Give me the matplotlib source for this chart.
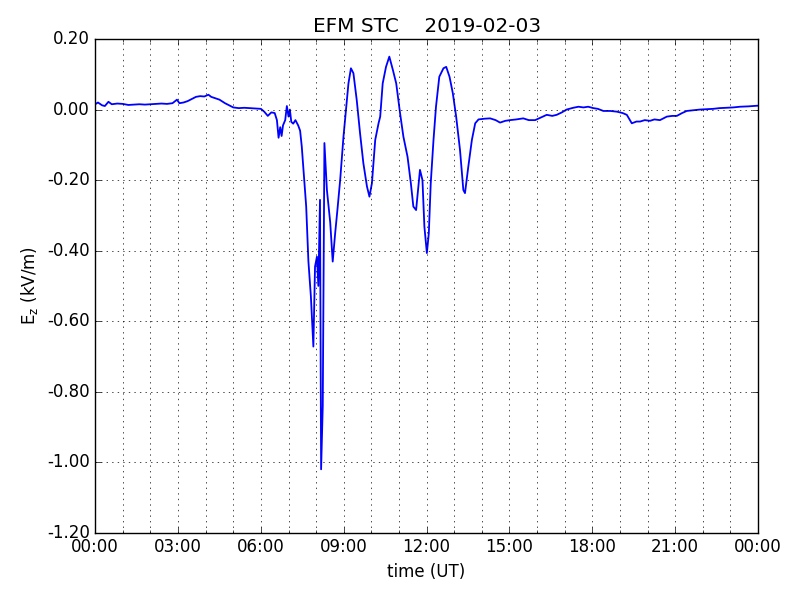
import matplotlib
matplotlib.use('Agg')
import matplotlib.pyplot as plt
import matplotlib.dates as mdates
from matplotlib.ticker import FormatStrFormatter
import pandas as pd

day = '2019-02-03'

# hours after midnight (UT) and Ez in kV/m
hours = [0.00, 0.10, 0.25, 0.35, 0.48, 0.60, 0.80, 1.00, 1.20, 1.40, 1.60, 1.80,
         2.00, 2.20, 2.40, 2.60, 2.80, 2.96, 3.05, 3.20, 3.35, 3.50, 3.65, 3.80,
         3.95, 4.10, 4.20, 4.35, 4.50, 4.70, 4.85, 5.00, 5.20, 5.40, 5.60, 5.80,
         6.00, 6.12, 6.25, 6.38, 6.50, 6.58, 6.64, 6.70, 6.75, 6.80, 6.88, 6.94,
         7.00, 7.05, 7.10, 7.17, 7.25, 7.35, 7.42, 7.48, 7.57, 7.64, 7.72, 7.81,
         7.90, 7.96, 8.03, 8.08, 8.14, 8.18, 8.24, 8.30, 8.39, 8.51, 8.60, 8.69,
         8.77, 8.87, 8.99, 9.09, 9.17, 9.26, 9.35, 9.47, 9.59, 9.71, 9.84, 9.93,
         10.02, 10.14, 10.26, 10.32, 10.41, 10.53, 10.65, 10.78, 10.90, 11.04, 11.16, 11.31,
         11.43, 11.52, 11.62, 11.70, 11.76, 11.85, 11.92, 12.01, 12.08, 12.15, 12.25, 12.34,
         12.46, 12.61, 12.71, 12.83, 12.95, 13.07, 13.21, 13.33, 13.39, 13.51, 13.64, 13.76,
         13.88, 14.10, 14.30, 14.50, 14.66, 14.85, 15.02, 15.25, 15.50, 15.70, 15.93, 16.15,
         16.35, 16.55, 16.71, 16.90, 17.07, 17.31, 17.50, 17.68, 17.85, 18.04, 18.20, 18.40,
         18.65, 18.89, 19.10, 19.25, 19.43, 19.60, 19.73, 19.90, 20.09, 20.25, 20.45, 20.70,
         20.90, 21.06, 21.25, 21.42, 21.65, 21.90, 22.15, 22.38, 22.60, 22.87, 23.10, 23.35,
         23.65, 24.00]
ez = [0.015, 0.020, 0.012, 0.010, 0.022, 0.015, 0.017, 0.016, 0.013, 0.014, 0.015, 0.014,
      0.015, 0.016, 0.017, 0.016, 0.018, 0.028, 0.018, 0.020, 0.024, 0.030, 0.036, 0.038,
      0.037, 0.042, 0.036, 0.032, 0.028, 0.018, 0.012, 0.006, 0.004, 0.005, 0.004, 0.003,
      0.002, -0.006, -0.018, -0.008, -0.010, -0.030, -0.080, -0.050, -0.075, -0.045, -0.030, 0.010,
      -0.020, 0.000, -0.035, -0.040, -0.030, -0.045, -0.060, -0.105, -0.200, -0.275, -0.430, -0.530,
      -0.672, -0.445, -0.417, -0.500, -0.256, -1.020, -0.840, -0.095, -0.228, -0.320, -0.431, -0.350,
      -0.285, -0.200, -0.077, 0.008, 0.074, 0.117, 0.103, 0.027, -0.067, -0.152, -0.218, -0.247,
      -0.209, -0.086, -0.039, -0.020, 0.074, 0.121, 0.150, 0.112, 0.074, -0.011, -0.077, -0.134,
      -0.209, -0.275, -0.285, -0.218, -0.171, -0.200, -0.332, -0.407, -0.351, -0.209, -0.086, 0.008,
      0.093, 0.117, 0.121, 0.093, 0.046, -0.020, -0.115, -0.228, -0.237, -0.162, -0.086, -0.039,
      -0.028, -0.026, -0.025, -0.030, -0.037, -0.032, -0.030, -0.028, -0.025, -0.030, -0.030, -0.022,
      -0.015, -0.018, -0.015, -0.008, 0.000, 0.005, 0.008, 0.006, 0.008, 0.004, 0.002, -0.004,
      -0.004, -0.006, -0.010, -0.015, -0.039, -0.034, -0.034, -0.030, -0.032, -0.028, -0.030, -0.020,
      -0.018, -0.018, -0.010, -0.004, -0.002, 0.000, 0.001, 0.002, 0.004, 0.005, 0.006, 0.008,
      0.009, 0.011]

y_ticks = [-1.2, -1.0, -0.8, -0.6, -0.4, -0.2, 0.0, 0.2]

if __name__ == '__main__':
    plt.style.use('classic')
    plt.rcParams['mathtext.default'] = 'regular'

    t0 = pd.Timestamp(day)
    times = [t0 + pd.Timedelta(hours=h) for h in hours]

    fig = plt.figure(figsize=(8, 6), dpi=100)
    ax = fig.add_subplot(111)
    fig.subplots_adjust(left=0.119, right=0.9475, top=0.935, bottom=0.112)

    ax.plot(times, ez, color='b', linewidth=1.3)

    ax.set_xlim(t0, t0 + pd.Timedelta(days=1))
    ax.set_ylim(-1.2, 0.2)
    ax.set_yticks(y_ticks)
    ax.yaxis.set_major_formatter(FormatStrFormatter('%.2f'))

    ax.xaxis.set_major_locator(mdates.HourLocator(byhour=range(0, 24, 3)))
    ax.xaxis.set_minor_locator(mdates.HourLocator())
    ax.xaxis.set_major_formatter(mdates.DateFormatter('%H:%M'))

    ax.grid(True, which='both', axis='x', linestyle=':', color='k')
    ax.grid(True, which='major', axis='y', linestyle=':', color='k')

    ax.set_title('EFM STC    ' + day)
    ax.set_xlabel('time (UT)')
    ax.set_ylabel('E$_z$ (kV/m)')

    fig.savefig('out.png', dpi=100, facecolor='w')
    plt.close()
